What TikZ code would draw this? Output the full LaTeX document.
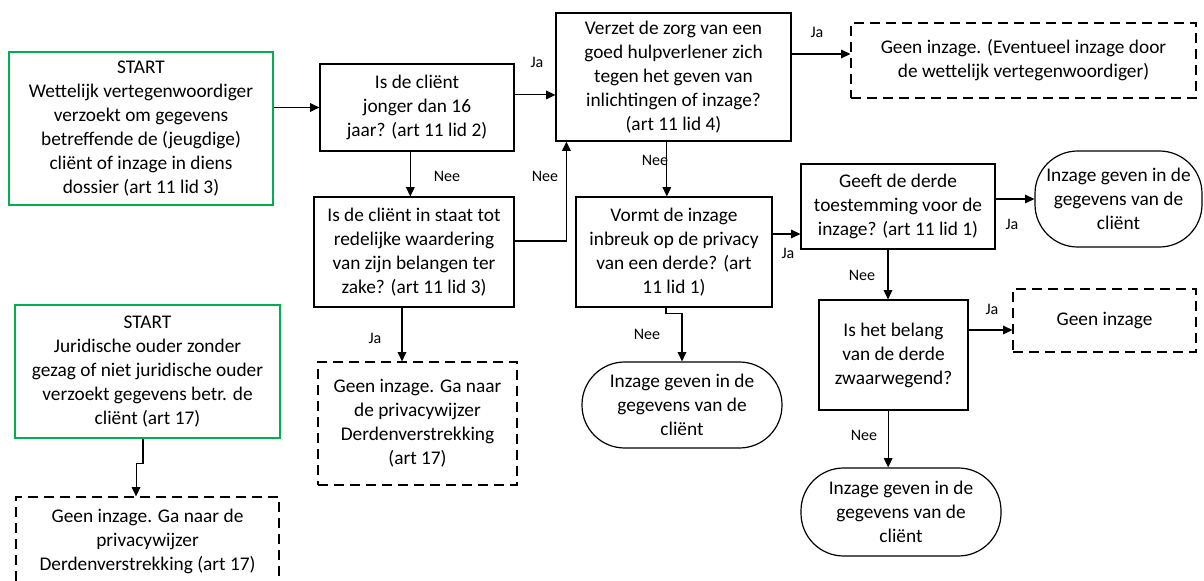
\documentclass[tikz,border=0pt]{standalone}
\usepackage{fontspec}
\setmainfont{Carlito}
\usetikzlibrary{arrows.meta}

\definecolor{startgroen}{RGB}{0,176,80}

\tikzset{
  vak/.style={draw, line width=0.9pt, align=center, inner sep=1pt,
    font=\fontsize{14.5}{18}\selectfont},
  startvak/.style={vak, draw=startgroen, line width=2pt},
  eindvak/.style={vak, dash pattern=on 7.5pt off 4.5pt},
  rondvak/.style={vak, rounded corners=32pt},
  pijl/.style={line width=0.8pt, -{Triangle[length=7pt,width=6.5pt]}},
  keuze/.style={font=\fontsize{12}{14}\selectfont, inner sep=0pt}
}

\begin{document}
\begin{tikzpicture}[x=0.75pt,y=-0.75pt]
        \useasboundingbox (0,0) rectangle (1204,581);

        % zeichne Startknoten
        \node[startvak, minimum width=198pt, minimum height=114.75pt] (start1) at (141,128.5)
          {START\\Wettelijk vertegenwoordiger\\verzoekt om gegevens\\betreffende de (jeugdige)\\cli\"ent of inzage in diens\\dossier (art 11 lid 3)};
        \node[startvak, minimum width=198.75pt, minimum height=99.75pt] (start2) at (147.5,371.5)
          {START\\Juridische ouder zonder\\gezag of niet juridische ouder\\verzoekt gegevens betr. de\\cli\"ent (art 17)};

        % zeichne Fragen
        \node[vak, minimum width=145.5pt, minimum height=65.25pt] (jonger) at (417,107.5)
          {Is de cli\"ent\\jonger dan 16\\jaar? (art 11 lid 2)};
        \node[vak, minimum width=150pt, minimum height=82.5pt] (staat) at (414,252)
          {Is de cli\"ent in staat tot\\redelijke waardering\\van zijn belangen ter\\zake? (art 11 lid 3)};
        \node[vak, minimum width=176.25pt, minimum height=96pt] (verzet) at (673.5,77)
          {Verzet de zorg van een\\goed hulpverlener zich\\tegen het geven van\\inlichtingen of inzage?\\(art 11 lid 4)};
        \node[vak, minimum width=147pt, minimum height=82.5pt] (privacy) at (674,252)
          {Vormt de inzage\\inbreuk op de privacy\\van een derde? (art\\11 lid 1)};
        \node[vak, minimum width=145.5pt, minimum height=63.75pt] (toestemming) at (898,206.5)
          {Geeft de derde\\toestemming voor de\\inzage? (art 11 lid 1)};
        \node[vak, minimum width=111.75pt, minimum height=82.5pt] (belang) at (893.5,355)
          {Is het belang\\van de derde\\zwaarwegend?};

        % zeichne Ergebnisse
        \node[eindvak, minimum width=258.75pt, minimum height=56.25pt] (geen1) at (1023.5,60.5)
          {Geen inzage. (Eventueel inzage door\\de wettelijk vertegenwoordiger)};
        \node[eindvak, minimum width=149.25pt, minimum height=92.25pt] (geen2) at (417.5,423.5)
          {Geen inzage. Ga naar\\de privacywijzer\\Derdenverstrekking\\(art 17)};
        \node[eindvak, minimum width=137.25pt, minimum height=47.25pt] (geen3) at (1104.5,320.5)
          {Geen inzage};
        \node[eindvak, minimum width=197.25pt, minimum height=66pt] (geen4) at (147.5,541)
          {Geen inzage. Ga naar de\\privacywijzer\\Derdenverstrekking (art 17)};
        \node[rondvak, minimum width=150pt, minimum height=64.5pt] (inzage1) at (682,405)
          {Inzage geven in de\\gegevens van de\\cli\"ent};
        \node[rondvak, minimum width=125.25pt, minimum height=72pt] (inzage2) at (1118.5,199)
          {Inzage geven in de\\gegevens van de\\cli\"ent};
        \node[rondvak, minimum width=150pt, minimum height=66pt] (inzage3) at (901,512)
          {Inzage geven in de\\gegevens van de\\cli\"ent};

        % zeichne Hilfspunkte
        \coordinate (p1) at ([yshift=9.4pt]jonger.east);
        \coordinate (p2) at ([xshift=-5pt]jonger.south);
        \coordinate (p3) at ([xshift=-9pt]staat.south);
        \coordinate (p4) at ([xshift=-5pt]verzet.south);
        \coordinate (p5) at ([yshift=13.5pt]privacy.east);
        \coordinate (p6) at ([xshift=-7.5pt]toestemming.south);
        \coordinate (p7) at ([yshift=18.75pt]belang.east);
        \coordinate (p8) at ([xshift=-4pt]belang.south);
        \coordinate (p9) at ([yshift=17.25pt]verzet.east);

        % zeichne Pfeile
        \draw[pijl] (jonger.west -| start1.east) -- (jonger.west);
        \draw[pijl] (p1) -- (p1 -| verzet.west);
        \draw[pijl] (p9) -- (p9 -| geen1.west);
        \draw[pijl] (p2) -- (p2 |- staat.north);
        \draw[pijl] ([yshift=8.25pt]staat.east) -| ([xshift=8.25pt]verzet.south west);
        \draw[pijl] (p3) -- (p3 |- geen2.north);
        \draw[pijl] (p4) -- (p4 |- privacy.north);
        \draw[pijl] ([xshift=-6pt]privacy.south) -- ++(0,6) -| (inzage1.north);
        \draw[pijl] (p5) -- (p5 -| toestemming.west);
        \draw[pijl] (inzage2.west -| toestemming.east) -- (inzage2.west);
        \draw[pijl] (p6) -- (p6 |- belang.north);
        \draw[pijl] (p7) -- (p7 -| geen3.west);
        \draw[pijl] (p8) -- (p8 |- inzage3.north);
        \draw[pijl] ([xshift=-3.4pt]start2.south) -- ++(0,24) -| ([xshift=-8.6pt]geen4.north);

        % zeichne Labels
        \node[keuze] (ja1) at (537,62) {Ja};
        \node[keuze] (nee1) at (447,176) {Nee};
        \node[keuze] (nee2) at (545,176) {Nee};
        \node[keuze] (ja2) at (375,338) {Ja};
        \node[keuze] (ja3) at (817,32) {Ja};
        \node[keuze] (nee3) at (655,160) {Nee};
        \node[keuze] (nee4) at (647,334) {Nee};
        \node[keuze] (ja4) at (788,253) {Ja};
        \node[keuze] (ja5) at (1012,224) {Ja};
        \node[keuze] (nee5) at (862,275) {Nee};
        \node[keuze] (ja6) at (992,309) {Ja};
        \node[keuze] (nee6) at (864,435) {Nee};
    \end{tikzpicture}
\end{document}
